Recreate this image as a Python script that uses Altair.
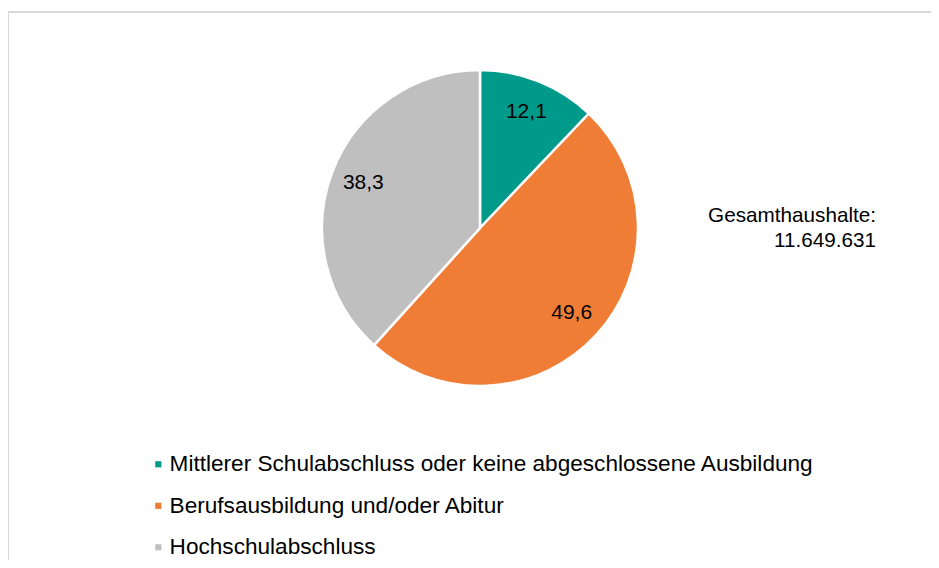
import altair as alt
import pandas as pd

categories = [
    "Mittlerer Schulabschluss oder keine abgeschlossene Ausbildung",
    "Berufsausbildung und/oder Abitur",
    "Hochschulabschluss",
]
values = [12.1, 49.6, 38.3]
labels = ["12,1", "49,6", "38,3"]
colors = ["#009a8a", "#ef7d35", "#bfbfbf"]
total_text = ["Gesamthaushalte:", "11.649.631"]

W, H = 923, 548
FS = 22.6

df = pd.DataFrame({
    "cat": categories,
    "val": values,
    "lab": labels,
    "ord": list(range(len(categories))),
})

cx, cy = 472, 216

base = alt.Chart(df).encode(
    theta=alt.Theta("val:Q", stack=True),
    order=alt.Order("ord:Q"),
)

arcs = base.mark_arc(outerRadius=158, stroke="white", strokeWidth=2.5).encode(
    x=alt.value(cx),
    y=alt.value(cy),
    color=alt.Color(
        "cat:N",
        scale=alt.Scale(domain=categories, range=colors),
        sort=categories,
        legend=alt.Legend(
            title=None,
            orient="none",
            legendX=139,
            legendY=441,
            symbolType="square",
            symbolSize=38,
            symbolStrokeWidth=0,
            labelFontSize=FS,
            labelFont="Liberation Sans",
            labelColor="#000000",
            labelLimit=900,
            labelOffset=0,
            rowPadding=18.5,
        ),
    ),
)

texts = base.mark_text(radius=125, fontSize=21, font="Liberation Sans", color="#000000").encode(
    x=alt.value(cx),
    y=alt.value(cy),
    text="lab:N",
)

note = alt.Chart(pd.DataFrame({"t": [total_text]})).mark_text(
    align="right", baseline="middle", fontSize=20.7, font="Liberation Sans",
    color="#000000", lineHeight=25,
).encode(
    x=alt.value(868),
    y=alt.value(203.5),
    text="t",
)

border_df = pd.DataFrame({"k": ["top"]})
top_line = alt.Chart(border_df).mark_rule(color="#d9d9d9", strokeWidth=2).encode(
    x=alt.value(0), x2=alt.value(W + 20), y=alt.value(0)
)
left_line = alt.Chart(border_df).mark_rule(color="#d9d9d9", strokeWidth=2).encode(
    x=alt.value(0), y=alt.value(0), y2=alt.value(H + 20)
)

chart = alt.layer(top_line, left_line, arcs, texts, note).properties(
    width=W,
    height=H,
    autosize=alt.AutoSizeParams(type="none"),
    padding={"left": 0, "top": 4, "right": 0, "bottom": 0},
).configure_view(
    stroke=None,
)

chart.save("out.html", embed_options={"renderer": "svg", "actions": False})
